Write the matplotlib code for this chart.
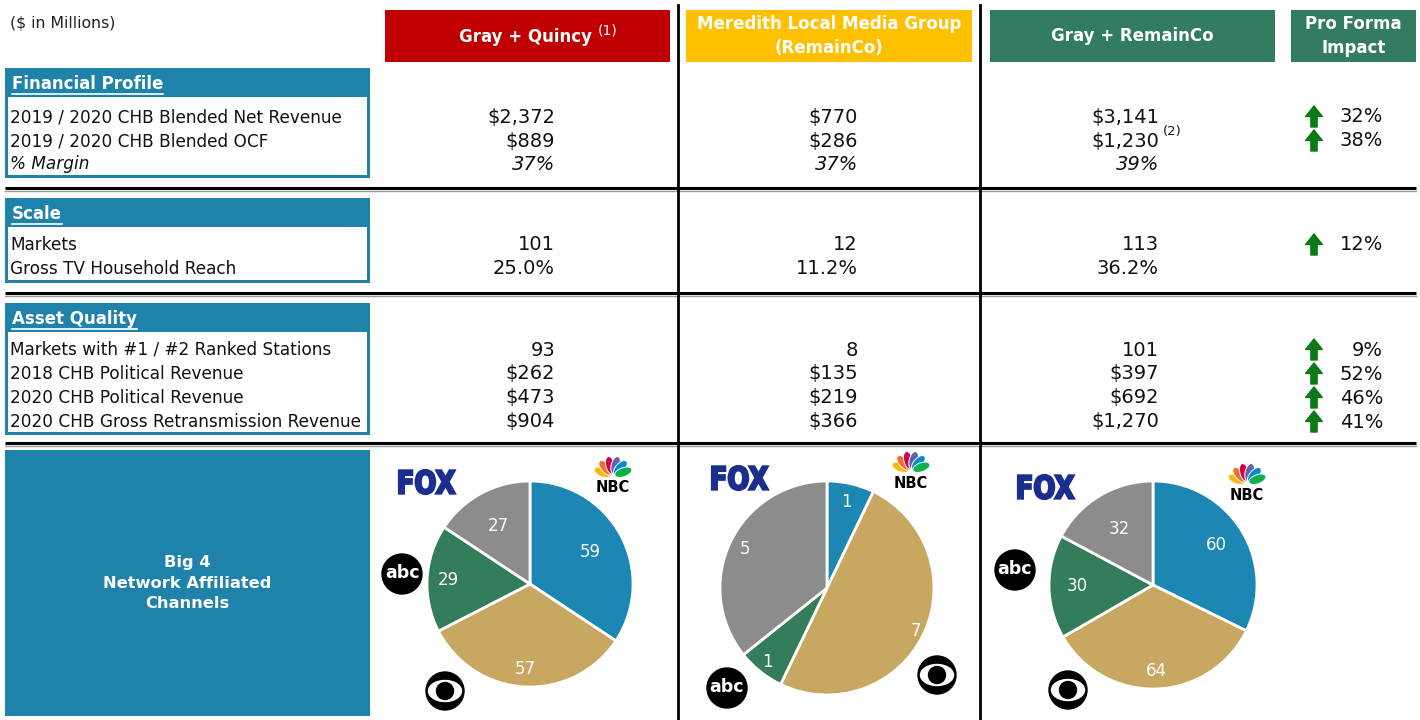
import matplotlib.pyplot as plt
from matplotlib.patches import Rectangle, Circle, Ellipse, PathPatch
from matplotlib.textpath import TextPath
from matplotlib.font_manager import FontProperties
from matplotlib.transforms import Affine2D
import numpy as np

plt.rcParams['text.parse_math'] = False
plt.rcParams['font.family'] = ['DejaVu Sans']

W, H = 1420, 720

# ---------------- data ----------------
col_heads = ["Gray + Quincy", "Meredith Local Media Group\n(RemainCo)", "Gray + RemainCo", "Pro Forma\nImpact"]
col_colors = ["#C00000", "#FFC000", "#327D5F", "#327D5F"]

sections = ["Financial Profile", "Scale", "Asset Quality"]
row_labels = [
    ["2019 / 2020 CHB Blended Net Revenue", "2019 / 2020 CHB Blended OCF", "% Margin"],
    ["Markets", "Gross TV Household Reach"],
    ["Markets with #1 / #2 Ranked Stations", "2018 CHB Political Revenue",
     "2020 CHB Political Revenue", "2020 CHB Gross Retransmission Revenue"],
]
gray_quincy = [["$2,372", "$889", "37%"], ["101", "25.0%"], ["93", "$262", "$473", "$904"]]
remainco = [["$770", "$286", "37%"], ["12", "11.2%"], ["8", "$135", "$219", "$366"]]
combined = [["$3,141", "$1,230", "39%"], ["113", "36.2%"], ["101", "$397", "$692", "$1,270"]]
impact = [["32%", "38%", ""], ["12%", ""], ["9%", "52%", "46%", "41%"]]

networks = ["NBC", "CBS", "ABC", "FOX"]
pie_gq = [59, 57, 29, 27]
pie_rc = [1, 7, 1, 5]
pie_comb = [60, 64, 30, 32]

# ---------------- styles / layout ----------------
BLUE = "#1E82AA"
ARROW_GREEN = "#0B7A12"
pie_colors = ["#1C87B3", "#C8A860", "#337D5A", "#8C8C8C"]

head_x = [(385, 670), (686, 972), (990, 1275), (1291, 1416)]
sec_top = [68, 198, 303]
sec_bot = [178, 283, 435]
row_y = [[117, 141, 164], [245, 269], [350, 374, 398, 422]]
val_x = [555, 858, 1159]
FS = 12.2
VFS = 14

fig = plt.figure(figsize=(14.2, 7.2), dpi=100)
ax = fig.add_axes([0, 0, 1, 1])
ax.set_xlim(0, W)
ax.set_ylim(H, 0)
ax.axis('off')

ax.text(10, 23, "($ in Millions)", fontsize=11.3, va='center', ha='left', color='#222222')

# column headers
for (x0, x1), c, t in zip(head_x, col_colors, col_heads):
    ax.add_patch(Rectangle((x0, 10), x1 - x0, 52, color=c, lw=0))
    cx = (x0 + x1) / 2
    if t == "Gray + Quincy":
        ax.text(592, 37, t, color='white', fontsize=12, fontweight='bold', ha='right', va='center')
        ax.text(598, 31, "(1)", color='white', fontsize=10, ha='left', va='center')
    else:
        ax.text(cx, 36, t, color='white', fontsize=12, fontweight='bold', ha='center', va='center',
                linespacing=1.4)

# separators
for y in [188, 293, 443]:
    ax.plot([5, 1416], [y, y], color='black', lw=2.2, solid_capstyle='butt')
    ax.plot([5, 1416], [y + 3, y + 3], color='#9a9a9a', lw=1.0)
for x in [678, 980]:
    ax.plot([x, x], [5, 720], color='black', lw=2)

# sections
title_texts = []
for s, name in enumerate(sections):
    top, bot = sec_top[s], sec_bot[s]
    ax.add_patch(Rectangle((5, top), 365, bot - top, color=BLUE, lw=0))
    ax.add_patch(Rectangle((8, top + 29), 359, bot - top - 32, color='white', lw=0))
    tt = ax.text(12, top + 16, name, color='white', fontsize=12, fontweight='bold', ha='left', va='center')
    title_texts.append((tt, top))
    for r, lab in enumerate(row_labels[s]):
        y = row_y[s][r]
        style = 'italic' if lab.startswith('%') else 'normal'
        ax.text(10, y, lab, fontsize=FS, ha='left', va='center', style=style, color='#111111')
        for cx, col in zip(val_x, [gray_quincy, remainco, combined]):
            ax.text(cx, y, col[s][r], fontsize=VFS, ha='right', va='center', style=style, color='#111111')
        if impact[s][r]:
            ax.text(1383, y, impact[s][r], fontsize=VFS, ha='right', va='center', color='#111111')
            ax.annotate("", xy=(1314, y - 11), xytext=(1314, y + 10),
                        arrowprops=dict(arrowstyle="simple,head_length=0.75,head_width=1.2,tail_width=0.45",
                                        fc=ARROW_GREEN, ec=ARROW_GREEN, shrinkA=0, shrinkB=0,
                                        mutation_scale=10))
ax.text(1163, 132, "(2)", fontsize=9.5, ha='left', va='center', color='#111111')

# underline section titles
fig.canvas.draw()
rend = fig.canvas.get_renderer()
for tt, top in title_texts:
    bb = tt.get_window_extent(rend)
    ax.plot([bb.x0, bb.x1], [top + 26, top + 26], color='white', lw=1.2)

# big 4 box
ax.add_patch(Rectangle((5, 450), 365, 266, color=BLUE, lw=0))
ax.text(187, 583, "Big 4\nNetwork Affiliated\nChannels", color='white', fontsize=11.7, fontweight='bold',
        ha='center', va='center', linespacing=1.5)


# ---------------- logos ----------------
def draw_fox(x, y):
    tp = TextPath((0, 0), "FOX", size=10, prop=FontProperties(family='DejaVu Sans', weight='heavy'))
    ext = tp.get_extents()
    sx = 56 / ext.width
    sy = 24 / ext.height
    tr = Affine2D().translate(-ext.x0 - ext.width / 2, -ext.y0 - ext.height / 2).scale(sx, -sy).translate(x, y)
    ax.add_patch(PathPatch(tr.transform_path(tp), fc='#1B2D8F', ec='#1B2D8F', lw=1.6))


def draw_nbc(x, y):
    feathers = ["#FCB711", "#F37021", "#CC004C", "#6460AA", "#0089D0", "#0DB14B"]
    base = (x, y + 11)
    for k, c in enumerate(feathers):
        a = 160 - k * 28
        ra = np.deg2rad(a)
        ex = base[0] + 11 * np.cos(ra)
        ey = base[1] - 11 * np.sin(ra)
        ax.add_patch(Ellipse((ex, ey), 18, 9, angle=-a, fc=c, ec='white', lw=0.7))
    ax.text(x, y + 23, "NBC", color='black', fontsize=10.5, fontweight='bold', ha='center', va='center')


def draw_abc(x, y):
    ax.add_patch(Circle((x, y), 20, color='black'))
    ax.text(x, y - 1, "abc", color='white', fontsize=12.5, fontweight='bold', ha='center', va='center')


def draw_cbs(x, y):
    ax.add_patch(Circle((x, y), 19, color='black'))
    ax.add_patch(Ellipse((x, y), 33, 21, color='white'))
    ax.add_patch(Circle((x, y), 8.5, color='black'))


logo_pos = [
    dict(fox=(427, 482), nbc=(613, 465), abc=(402, 574), cbs=(445, 691)),
    dict(fox=(740, 478), nbc=(911, 460), abc=(727, 688), cbs=(937, 675)),
    dict(fox=(1046, 487), nbc=(1247, 472), abc=(1015, 570), cbs=(1068, 690)),
]
for lp in logo_pos:
    draw_fox(*lp['fox'])
    draw_nbc(*lp['nbc'])
    draw_abc(*lp['abc'])
    draw_cbs(*lp['cbs'])


# ---------------- pies ----------------
def add_pie(vals, cx, cy, r, dists):
    m = 1.04
    pa = fig.add_axes([(cx - r * m) / W, (H - cy - r * m) / H, 2 * r * m / W, 2 * r * m / H])
    wedges, _ = pa.pie(vals, colors=pie_colors, startangle=90, counterclock=False,
                       wedgeprops=dict(edgecolor='white', linewidth=2))
    for w, v, d in zip(wedges, vals, dists):
        mid = np.deg2rad((w.theta1 + w.theta2) / 2)
        pa.text(d * np.cos(mid), d * np.sin(mid), str(v), color='white', ha='center', va='center', fontsize=12)
    pa.set_xlim(-m, m)
    pa.set_ylim(-m, m)
    pa.set_aspect('equal')
    pa.axis('off')


add_pie(pie_gq, 530, 584, 103, [0.66, 0.83, 0.79, 0.64])
add_pie(pie_rc, 827, 588, 107, [0.82, 0.92, 0.89, 0.85])
add_pie(pie_comb, 1153, 585, 104, [0.72, 0.83, 0.73, 0.63])

fig.savefig("out.png", dpi=100, facecolor='white')
